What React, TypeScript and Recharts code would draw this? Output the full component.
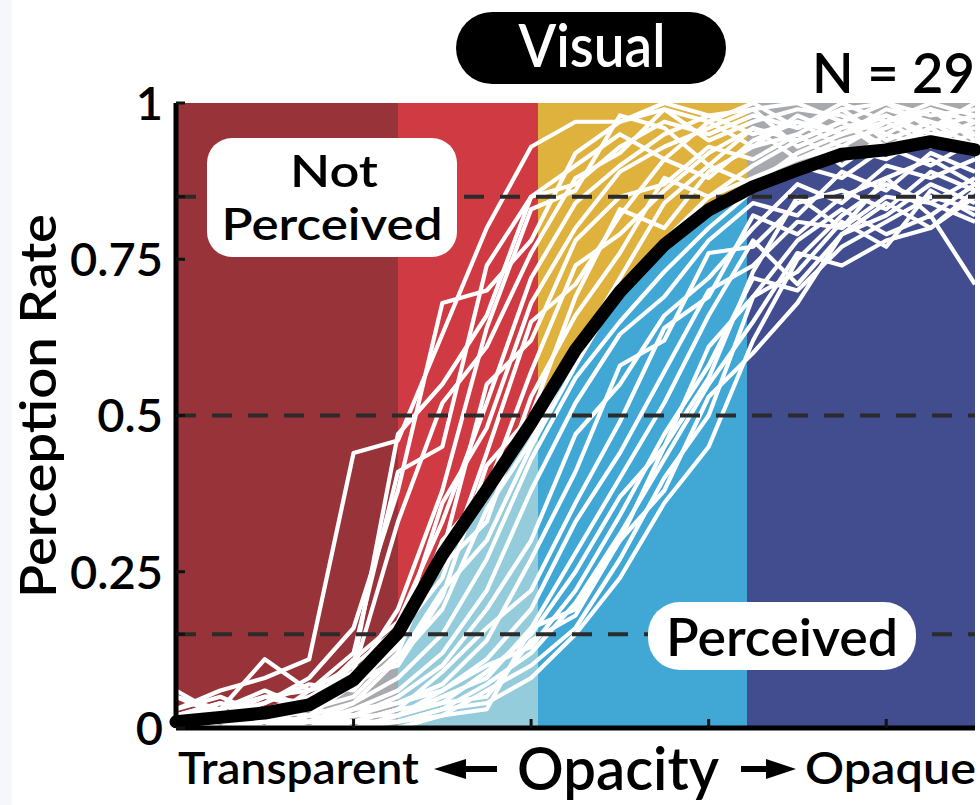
import React from 'react';
import { ComposedChart, Area, Line, XAxis, YAxis } from 'recharts';

// ---------- data ----------
const OPACITY = [0, 0.05, 0.1, 0.15, 0.2, 0.25, 0.3, 0.35, 0.4, 0.45, 0.5, 0.55, 0.6, 0.65, 0.7, 0.75, 0.8, 0.85, 0.9];
const X_MAX = 0.9;

const MEAN = [0.01, 0.017, 0.024, 0.037, 0.077, 0.152, 0.277, 0.381, 0.488, 0.605, 0.698, 0.773, 0.829, 0.866, 0.893, 0.918, 0.925, 0.938, 0.925];

const E01 = [0.03, 0.06, 0.08, 0.11, 0.44, 0.46, 0.63, 0.8, 0.93, 0.97, 0.97, 1.0, 0.98, 0.99, 1.0, 0.97, 1.0, 0.98, 0.99];
const E02 = [0.0, 0.02, 0.05, 0.06, 0.1, 0.47, 0.55, 0.66, 0.85, 0.87, 0.93, 0.97, 0.95, 0.98, 0.96, 1.0, 0.97, 1.0, 0.98];
const E03 = [0.05, 0.02, 0.04, 0.08, 0.16, 0.38, 0.68, 0.7, 0.78, 0.92, 0.97, 0.99, 0.94, 0.97, 0.99, 0.98, 0.95, 0.99, 0.97];
const E04 = [0.02, 0.04, 0.01, 0.06, 0.12, 0.41, 0.45, 0.74, 0.85, 0.9, 0.95, 0.91, 0.97, 1.0, 0.96, 0.99, 1.0, 0.96, 1.0];
const E05 = [0.0, 0.03, 0.06, 0.03, 0.09, 0.33, 0.52, 0.61, 0.76, 0.88, 0.92, 0.99, 0.97, 0.93, 0.98, 0.95, 0.99, 0.97, 0.95];
const E06 = [0.01, 0.0, 0.03, 0.05, 0.08, 0.19, 0.38, 0.64, 0.83, 0.86, 0.98, 0.96, 0.9, 0.96, 0.94, 0.97, 0.93, 0.96, 0.98];
const E07 = [0.03, 0.05, 0.02, 0.04, 0.11, 0.17, 0.33, 0.52, 0.72, 0.84, 0.9, 0.95, 0.98, 0.95, 0.97, 0.93, 0.97, 0.99, 0.94];
const E08 = [0.06, 0.02, 0.04, 0.07, 0.06, 0.14, 0.36, 0.48, 0.68, 0.8, 0.89, 0.93, 0.96, 0.99, 0.93, 0.96, 0.98, 0.94, 0.97];
const E09 = [0.02, 0.01, 0.03, 0.02, 0.07, 0.13, 0.28, 0.55, 0.62, 0.78, 0.85, 0.87, 0.93, 0.91, 0.95, 0.99, 0.94, 0.97, 0.93];
const E10 = [0.0, 0.03, 0.0, 0.05, 0.09, 0.15, 0.24, 0.44, 0.65, 0.71, 0.82, 0.91, 0.88, 0.94, 0.97, 0.95, 0.98, 0.95, 0.96];
const E11 = [0.01, 0.02, 0.05, 0.03, 0.05, 0.12, 0.3, 0.38, 0.57, 0.74, 0.79, 0.86, 0.92, 0.96, 0.91, 0.94, 0.96, 0.99, 0.95];
const E12 = [0.05, 0.03, 0.11, 0.06, 0.08, 0.1, 0.21, 0.42, 0.5, 0.69, 0.83, 0.8, 0.89, 0.93, 0.95, 0.9, 0.95, 0.93, 0.97];
const E13 = [0.0, 0.01, 0.03, 0.04, 0.1, 0.16, 0.26, 0.33, 0.53, 0.66, 0.76, 0.88, 0.85, 0.9, 0.94, 0.97, 0.92, 0.96, 0.92];
const E14 = [0.02, 0.04, 0.02, 0.01, 0.04, 0.11, 0.19, 0.35, 0.46, 0.6, 0.72, 0.84, 0.9, 0.87, 0.92, 0.95, 0.97, 0.93, 0.95];
const M01 = [0.02, 0.03, 0.05, 0.04, 0.07, 0.11, 0.22, 0.3, 0.45, 0.58, 0.7, 0.78, 0.85, 0.88, 0.91, 0.93, 0.91, 0.95, 0.92];
const L01 = [0.0, 0.01, 0.0, 0.02, 0.04, 0.08, 0.15, 0.27, 0.43, 0.56, 0.65, 0.73, 0.8, 0.86, 0.9, 0.88, 0.93, 0.9, 0.94];
const L02 = [0.01, 0.0, 0.02, 0.0, 0.03, 0.06, 0.12, 0.22, 0.38, 0.52, 0.63, 0.69, 0.78, 0.84, 0.82, 0.89, 0.86, 0.92, 0.89];
const L03 = [0.0, 0.02, 0.01, 0.03, 0.02, 0.05, 0.1, 0.19, 0.3, 0.47, 0.55, 0.66, 0.72, 0.8, 0.87, 0.84, 0.9, 0.88, 0.91];
const L04 = [0.02, 0.0, 0.01, 0.01, 0.03, 0.04, 0.07, 0.14, 0.27, 0.41, 0.58, 0.62, 0.76, 0.77, 0.84, 0.86, 0.83, 0.89, 0.86];
const L05 = [0.0, 0.01, 0.0, 0.02, 0.01, 0.03, 0.09, 0.16, 0.22, 0.36, 0.49, 0.64, 0.69, 0.82, 0.79, 0.85, 0.88, 0.82, 0.87];
const L06 = [0.01, 0.0, 0.02, 0.01, 0.02, 0.04, 0.06, 0.11, 0.19, 0.33, 0.44, 0.57, 0.7, 0.74, 0.81, 0.8, 0.85, 0.84, 0.81];
const L07 = [0.0, 0.0, 0.01, 0.0, 0.02, 0.02, 0.05, 0.08, 0.16, 0.28, 0.4, 0.52, 0.66, 0.78, 0.71, 0.79, 0.82, 0.87, 0.84];
const L08 = [0.0, 0.01, 0.0, 0.01, 0.01, 0.03, 0.04, 0.09, 0.15, 0.25, 0.37, 0.45, 0.61, 0.69, 0.78, 0.83, 0.79, 0.82, 0.71];
const L09 = [0.01, 0.0, 0.0, 0.02, 0.0, 0.02, 0.06, 0.1, 0.13, 0.22, 0.34, 0.47, 0.58, 0.72, 0.7, 0.77, 0.81, 0.85, 0.83];
const L10 = [0.0, 0.0, 0.01, 0.0, 0.01, 0.01, 0.03, 0.07, 0.12, 0.2, 0.31, 0.43, 0.55, 0.65, 0.76, 0.74, 0.78, 0.8, 0.86];
const L11 = [0.0, 0.0, 0.0, 0.01, 0.0, 0.02, 0.04, 0.05, 0.14, 0.18, 0.3, 0.38, 0.53, 0.6, 0.68, 0.79, 0.84, 0.8, 0.85];
const L12 = [0.0, 0.0, 0.0, 0.0, 0.01, 0.01, 0.02, 0.06, 0.1, 0.16, 0.27, 0.4, 0.5, 0.69, 0.73, 0.81, 0.77, 0.86, 0.82];
const L13 = [0.0, 0.0, 0.0, 0.0, 0.0, 0.01, 0.03, 0.04, 0.08, 0.15, 0.24, 0.36, 0.45, 0.62, 0.75, 0.82, 0.87, 0.84, 0.88];
const L14 = [0.0, 0.0, 0.0, 0.0, 0.0, 0.0, 0.02, 0.03, 0.16, 0.19, 0.3, 0.45, 0.56, 0.73, 0.85, 0.8, 0.88, 0.91, 0.87];

const PARTICIPANTS = [E01, E02, E03, E04, E05, E06, E07, E08, E09, E10, E11, E12, E13, E14, M01,
  L01, L02, L03, L04, L05, L06, L07, L08, L09, L10, L11, L12, L13, L14];

const THRESHOLDS = [0.15, 0.5, 0.85];
const BAND_EDGES = [0.25, 0.408, 0.643];
const ABOVE_COLORS = ['#98333A', '#CF3A43', '#DFB13D', '#A7A9AE'];
const BELOW_COLORS = ['#A7A9AE', '#94CCDB', '#41A8D6', '#414D8F'];
const Y_TICKS = [0, 0.15, 0.25, 0.5, 0.75, 0.85, 1];
const Y_LABELS = [0, 0.25, 0.5, 0.75, 1];
const X_TICKS = [0.2, 0.4, 0.6, 0.8];

const TABLE = OPACITY.map((x, i) => {
  const row: Record<string, number> = { x, top: 1, mean: MEAN[i] };
  PARTICIPANTS.forEach((p, j) => { row['p' + j] = p[i]; });
  return row;
});

const FONT = 'Lato, "Open Sans", sans-serif';

const gradientStops = (colors: string[]) => {
  const edges = [0, ...BAND_EDGES.map((b) => b / X_MAX), 1];
  return colors.flatMap((c, k) => [
    <stop key={k + 'a'} offset={edges[k]} stopColor={c} />,
    <stop key={k + 'b'} offset={edges[k + 1]} stopColor={c} />,
  ]);
};

const YTick = (props: any) => {
  const { x, y, payload } = props;
  const v = payload.value;
  const labeled = Y_LABELS.includes(v);
  return (
    <g>
      <line x1={x} x2={x + 9} y1={y} y2={y} stroke="#111" strokeWidth={3} />
      {labeled && (
        <text x={x - 13} y={y} dy="0.36em" textAnchor="end" fontFamily={FONT} fontSize={47} fontWeight={600} fill="#000">
          {String(v)}
        </text>
      )}
    </g>
  );
};

const XTick = (props: any) => {
  const { x, y } = props;
  return <line x1={x} x2={x} y1={y} y2={y - 9} stroke="#111" strokeWidth={3} />;
};

export default function App() {
  return (
    <div style={{ position: 'absolute', left: 0, top: 0, width: 980, height: 805, background: '#fff', overflow: 'hidden' }}>
      <div style={{ position: 'absolute', left: 0, top: 0, width: 12, height: 805, background: '#f5f7fa' }} />
      <div style={{ position: 'absolute', left: 0, top: 0 }}>
        <ComposedChart width={980} height={805} data={TABLE} margin={{ top: 103, right: 5, bottom: 0, left: 0 }}>
          <defs>
            <linearGradient id="aboveGrad" x1="0" y1="0" x2="1" y2="0">
              {gradientStops(ABOVE_COLORS)}
            </linearGradient>
            <linearGradient id="belowGrad" x1="0" y1="0" x2="1" y2="0">
              {gradientStops(BELOW_COLORS)}
            </linearGradient>
          </defs>
          <Area type="linear" dataKey="top" stroke="none" fill="url(#aboveGrad)" fillOpacity={1} dot={false} activeDot={false} isAnimationActive={false} />
          <Area type="linear" dataKey="mean" stroke="none" fill="url(#belowGrad)" fillOpacity={1} dot={false} activeDot={false} isAnimationActive={false} />
          {PARTICIPANTS.map((_, j) => (
            <Line key={'p' + j} type="linear" dataKey={'p' + j} stroke="#ffffff" strokeWidth={4.2} strokeLinejoin="round" dot={false} activeDot={false} isAnimationActive={false} />
          ))}
          {THRESHOLDS.map((t) => (
            <Line key={'t' + t} data={[{ x: 0, v: t }, { x: X_MAX, v: t }]} dataKey="v" type="linear" stroke="#2b2b2b" strokeWidth={4} strokeDasharray="20 16" dot={false} activeDot={false} isAnimationActive={false} />
          ))}
          <Line type="linear" dataKey="mean" stroke="#000" strokeWidth={13} strokeLinecap="round" strokeLinejoin="round" dot={false} activeDot={false} isAnimationActive={false} />
          <XAxis dataKey="x" type="number" domain={[0, X_MAX]} ticks={X_TICKS} interval={0} tickSize={0} tickMargin={0} tickLine={false} tick={<XTick />} axisLine={{ stroke: '#000', strokeWidth: 5 }} height={77} />
          <YAxis type="number" domain={[0, 1]} ticks={Y_TICKS} interval={0} tickSize={0} tickMargin={0} tickLine={false} tick={<YTick />} axisLine={{ stroke: '#000', strokeWidth: 5 }} width={176} />
          <XAxis xAxisId="top" orientation="top" type="number" dataKey="x" domain={[0, X_MAX]} tick={false} tickLine={false} axisLine={{ stroke: '#000', strokeWidth: 3 }} height={0} />
          <YAxis yAxisId="right" orientation="right" type="number" domain={[0, 1]} tick={false} tickLine={false} axisLine={{ stroke: '#000', strokeWidth: 3 }} width={0} />
        </ComposedChart>
      </div>
      <svg width={980} height={805} style={{ position: 'absolute', left: 0, top: 0, pointerEvents: 'none' }} fontFamily={FONT}>
        {/* title pill */}
        <rect x={456} y={12} width={270} height={72} rx={36} fill="#000" />
        <text x={592} y={67} textAnchor="middle" fontSize={60} fontWeight={600} fill="#fff" textLength={147} lengthAdjust="spacingAndGlyphs">Visual</text>
        <text x={975} y={93} textAnchor="end" fontSize={56} fontWeight={600} fill="#000" textLength={163} lengthAdjust="spacingAndGlyphs">N = 29</text>
        {/* Not Perceived box */}
        <rect x={207} y={138} width={250} height={119} rx={25} fill="#fff" />
        <text x={334} y={187} textAnchor="middle" fontSize={44} fontWeight={600} fill="#000" textLength={88} lengthAdjust="spacingAndGlyphs">Not</text>
        <text x={332} y={240} textAnchor="middle" fontSize={44} fontWeight={600} fill="#000" textLength={221} lengthAdjust="spacingAndGlyphs">Perceived</text>
        {/* Perceived box */}
        <rect x={648} y={602} width={268} height={68} rx={32} fill="#fff" />
        <text x={782} y={656} textAnchor="middle" fontSize={52} fontWeight={600} fill="#000" textLength={232} lengthAdjust="spacingAndGlyphs">Perceived</text>
        {/* y axis title */}
        <text x={0} y={0} transform="translate(56 406) rotate(-90)" textAnchor="middle" fontSize={50} fontWeight={600} fill="#000" textLength={384} lengthAdjust="spacingAndGlyphs">Perception Rate</text>
        {/* x axis captions */}
        <text x={178} y={784} fontSize={44} fontWeight={600} fill="#000" textLength={241} lengthAdjust="spacingAndGlyphs">Transparent</text>
        <polygon points="434,769 466,759 466,779" fill="#000" />
        <rect x={464} y={766} width={33} height={6} fill="#000" />
        <text x={618} y={790} textAnchor="middle" fontSize={60} fontWeight={600} fill="#000" textLength={202} lengthAdjust="spacingAndGlyphs">Opacity</text>
        <rect x={741} y={766} width={30} height={6} fill="#000" />
        <polygon points="796,769 766,759 766,779" fill="#000" />
        <text x={805} y={784} fontSize={44} fontWeight={600} fill="#000" textLength={171} lengthAdjust="spacingAndGlyphs">Opaque</text>
      </svg>
    </div>
  );
}
